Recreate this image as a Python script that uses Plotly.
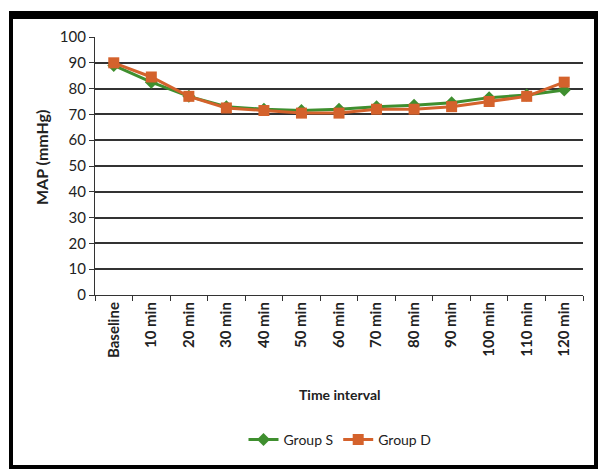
import plotly.graph_objects as go

categories = ["Baseline", "10 min", "20 min", "30 min", "40 min", "50 min", "60 min",
              "70 min", "80 min", "90 min", "100 min", "110 min", "120 min"]
group_s = [89, 82.5, 77, 73, 72, 71.5, 72, 73, 73.5, 74.5, 76.5, 77.5, 79.5]
group_d = [90, 84.5, 77, 72.5, 71.5, 70.5, 70.5, 72, 72, 73, 75, 77, 82.5]
y_ticks = list(range(0, 101, 10))

W, H = 601, 470
L, R, T, B = 95, 18, 37, 175
pw, ph = W - L - R, H - T - B

def px(x):
    return (x - L) / pw

def py(y):
    return (H - B - y) / ph

FONT = "Lato, 'Open Sans', sans-serif"

fig = go.Figure()
fig.add_trace(go.Scatter(
    x=categories, y=group_s, name="Group S", mode="lines+markers",
    line=dict(color="#3f8f2f", width=3),
    marker=dict(symbol="diamond", size=10, color="#3f8f2f"),
))
fig.add_trace(go.Scatter(
    x=categories, y=group_d, name="Group D", mode="lines+markers",
    line=dict(color="#d4622c", width=3),
    marker=dict(symbol="square", size=11, color="#d4622c"),
))

fig.update_layout(
    width=W, height=H,
    margin=dict(l=L, r=R, t=T, b=B),
    paper_bgcolor="white", plot_bgcolor="white",
    font=dict(family=FONT, size=14, color="#222"),
    showlegend=True,
    legend=dict(orientation="h", x=px(340), xanchor="center", y=py(440), yanchor="middle",
                font=dict(size=14, family=FONT, color="#222"), bgcolor="rgba(0,0,0,0)",
                itemwidth=30, tracegroupgap=0),
    xaxis=dict(
        type="category", categoryorder="array", categoryarray=categories,
        tickangle=-90, tickfont=dict(size=15, family=FONT, color="#222", weight="bold"),
        ticks="outside", tickson="boundaries", ticklen=5, tickcolor="#333",
        showline=True, linecolor="#333", linewidth=1.2, showgrid=False,
        range=[-0.5, len(categories) - 0.5],
    ),
    yaxis=dict(
        range=[0, 100], tickvals=y_ticks, ticks="outside", ticklen=5, tickcolor="#333",
        tickfont=dict(size=15, family=FONT, color="#222"),
        showline=True, linecolor="#333", linewidth=1.2,
        showgrid=True, gridcolor="#333333", gridwidth=1.5, zeroline=False,
    ),
    annotations=[
        dict(text="<b>Time interval</b>", x=px(340), y=py(394), xref="paper", yref="paper",
             showarrow=False, xanchor="center", yanchor="middle",
             font=dict(size=14, family=FONT, color="#222")),
        dict(text="<b>MAP (mmHg)</b>", x=px(41), y=py(158), xref="paper", yref="paper",
             showarrow=False, textangle=-90, xanchor="center", yanchor="middle",
             font=dict(size=16, family=FONT, color="#222")),
    ],
    shapes=[
        dict(type="rect", xref="paper", yref="paper", x0=px(11), x1=px(596), y0=py(467), y1=py(15),
             line=dict(color="black", width=4), fillcolor="rgba(0,0,0,0)", layer="above"),
        dict(type="rect", xref="paper", yref="paper", x0=px(9), x1=px(598), y0=py(19), y1=py(11),
             line=dict(width=0), fillcolor="black", layer="above"),
    ],
)

fig.write_html("out.html")
